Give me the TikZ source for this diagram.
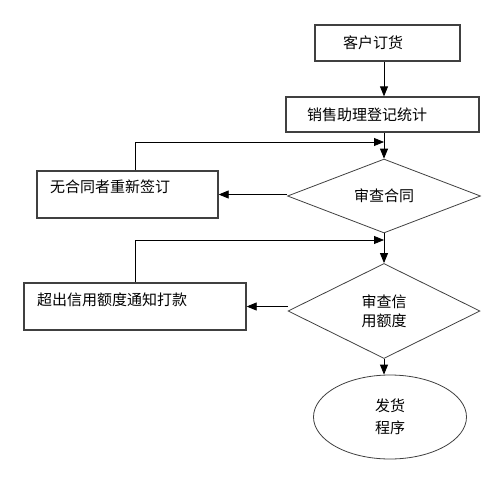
\documentclass[tikz,border=0pt]{standalone}
\usepackage{fontspec}
\newfontfamily\cjk{Noto Sans CJK SC}
\usetikzlibrary{arrows.meta,shapes.geometric}
\begin{document}
\begin{tikzpicture}[x=1pt, y=-1pt,
  box/.style={draw=black!75, line width=1.3pt, rectangle, align=left, inner ysep=0pt,
    font=\cjk\fontsize{15}{19}\selectfont},
  check/.style={draw=black!75, line width=0.8pt, diamond, inner sep=0pt, align=center,
    font=\cjk\fontsize{15}{19}\selectfont},
  flow/.style={line width=0.8pt, -{Triangle[length=10pt,width=8pt]}}]
\useasboundingbox (0,0) rectangle (500,479);
% main column
\node[box, minimum height=36pt, inner xsep=28pt, text width=89pt] (order) at (387.5,43) {客户订货};
\node[box, minimum height=35pt, inner xsep=21pt, text width=151pt] (log) at (382.5,114.5) {销售助理登记统计};
\node[check, minimum width=193pt, minimum height=72pt] (d1) at (384,196) {审查合同};
\node[check, minimum width=192pt, minimum height=95pt] (d2) at (384,311) {审查信\\用额度};
\node[draw=black!75, line width=0.8pt, ellipse, inner sep=0pt, minimum width=153pt, minimum height=84pt,
  align=center, font=\cjk\fontsize{15}{22}\selectfont] (ship) at (390,417) {发货\\程序};
% side boxes
\node[box, inner xsep=13pt, text width=155pt, text height=21.7pt, text depth=25.3pt] (redo) at (127.5,194.5) {无合同者重新签订};
\node[box, inner xsep=13pt, text width=196pt, text height=22.7pt, text depth=24.3pt] (pay) at (135,306.5) {超出信用额度通知打款};
\coordinate (in1) at (384,142);
\coordinate (in2) at (384,240);
% connectors
\draw[flow] (order.south -| d1.north) -- (log.north -| d1.north);
\draw[flow] (log.south -| d1.north) -- (d1.north);
\draw[flow] (d1.south) -- (d2.north);
\draw[flow] (d2.south) -- (d2.south |- ship.north);
\draw[flow] (d1.west |- redo.east) -- (redo.east);
\draw[flow] (d2.west |- pay.east) -- (pay.east);
\draw[flow] ([xshift=7.5pt]redo.north) |- (in1);
\draw[flow] (pay.north) |- (in2);
\end{tikzpicture}
\end{document}
